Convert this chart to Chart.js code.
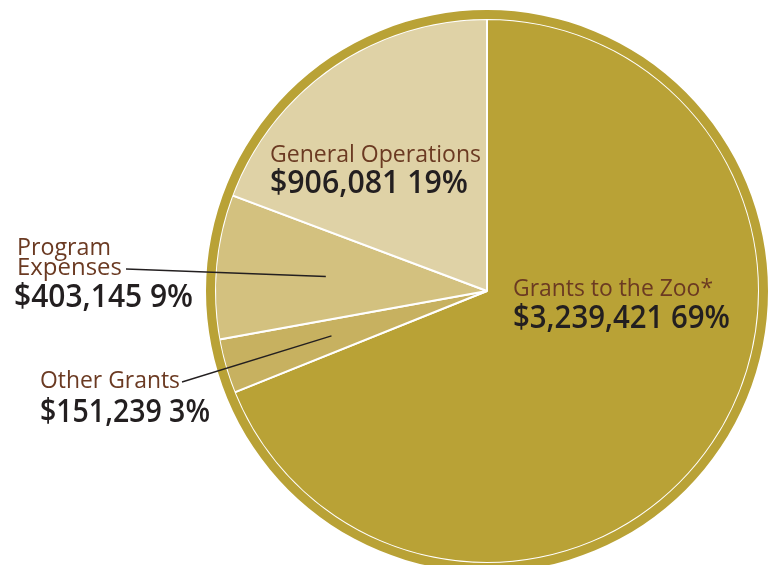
<!DOCTYPE html>
<html>
<head>
<meta charset="utf-8">
<script src="https://cdn.jsdelivr.net/npm/chart.js@4.4.1/dist/chart.umd.min.js"></script>
<style>
  html, body { margin: 0; padding: 0; background: #fff; overflow: hidden; }
  #wrap { position: absolute; left: 0; top: 0; width: 772px; height: 580px; }
</style>
</head>
<body>
<div id="wrap"><canvas id="chart"></canvas></div>
<script>
// budget split
var categories = ['Grants to the Zoo*', 'Other Grants', 'Program Expenses', 'General Operations'];
var amounts = [3239421, 151239, 403145, 906081];
var sliceColors = ['#B9A236', '#C7B160', '#D3C17F', '#DFD2A6'];

var total = amounts.reduce(function(a, b) { return a + b; }, 0);

// where each label sits (left x, baselines) and how wide it is drawn
var labelLayout = [
  { lines: ['Grants to the Zoo*'], x: 513, base: [296], nameW: 200, valBase: 328, valW: 217 },
  { lines: ['Other Grants'], x: 40, base: [388], nameW: 140, valBase: 422, valW: 170,
    leader: [182, 382] },
  { lines: ['Program', 'Expenses'], x: 17, base: [255, 275], nameW: [94, 105], valBase: 307, valW: 179, valX: 14,
    leader: [126, 269] },
  { lines: ['General Operations'], x: 270, base: [162], nameW: 211, valBase: 193, valW: 198 }
];

function fitText(ctx, text, x, y, w) {
  var m = ctx.measureText(text).width;
  ctx.save();
  ctx.translate(x, y);
  ctx.scale(w / m, 1);
  ctx.fillText(text, 0, 0);
  ctx.restore();
}

var labelPlugin = {
  id: 'sliceLabels',
  afterDraw: function(chart) {
    var ctx = chart.ctx;
    var arcs = chart.getDatasetMeta(1).data;
    ctx.save();
    ctx.textBaseline = 'alphabetic';
    labelLayout.forEach(function(lay, i) {
      var arc = arcs[i];
      if (lay.leader) {
        var mid = (arc.startAngle + arc.endAngle) / 2;
        var r = arc.outerRadius * 0.595;
        ctx.beginPath();
        ctx.moveTo(lay.leader[0], lay.leader[1]);
        ctx.lineTo(arc.x + Math.cos(mid) * r, arc.y + Math.sin(mid) * r);
        ctx.strokeStyle = '#231F20';
        ctx.lineWidth = 1.4;
        ctx.stroke();
      }
      ctx.fillStyle = '#6B3A22';
      ctx.font = '500 23px "Open Sans"';
      lay.lines.forEach(function(line, k) {
        var w = Array.isArray(lay.nameW) ? lay.nameW[k] : lay.nameW;
        fitText(ctx, line, lay.x, lay.base[k], w);
      });
      var pct = Math.round(amounts[i] / total * 100);
      var val = '$' + amounts[i].toLocaleString('en-US') + ' ' + pct + '%';
      ctx.fillStyle = '#231F20';
      ctx.font = '600 32px "Open Sans"';
      fitText(ctx, val, lay.valX || lay.x, lay.valBase, lay.valW);
    });
    ctx.restore();
  }
};

new Chart(document.getElementById('chart'), {
  type: 'pie',
  data: {
    labels: categories,
    datasets: [{
      // outer gold ring
      data: [total],
      backgroundColor: ['#B9A236'],
      borderWidth: 0,
      weight: 9
    }, {
      data: amounts,
      backgroundColor: sliceColors,
      borderColor: '#ffffff',
      borderWidth: 2,
      weight: 272
    }]
  },
  options: {
    responsive: true,
    maintainAspectRatio: false,
    animation: false,
    radius: 281,
    layout: { padding: { left: 206, right: 4, top: 10, bottom: 8 } },
    plugins: {
      legend: { display: false },
      tooltip: { enabled: false }
    }
  },
  plugins: [labelPlugin]
});
</script>
</body>
</html>
